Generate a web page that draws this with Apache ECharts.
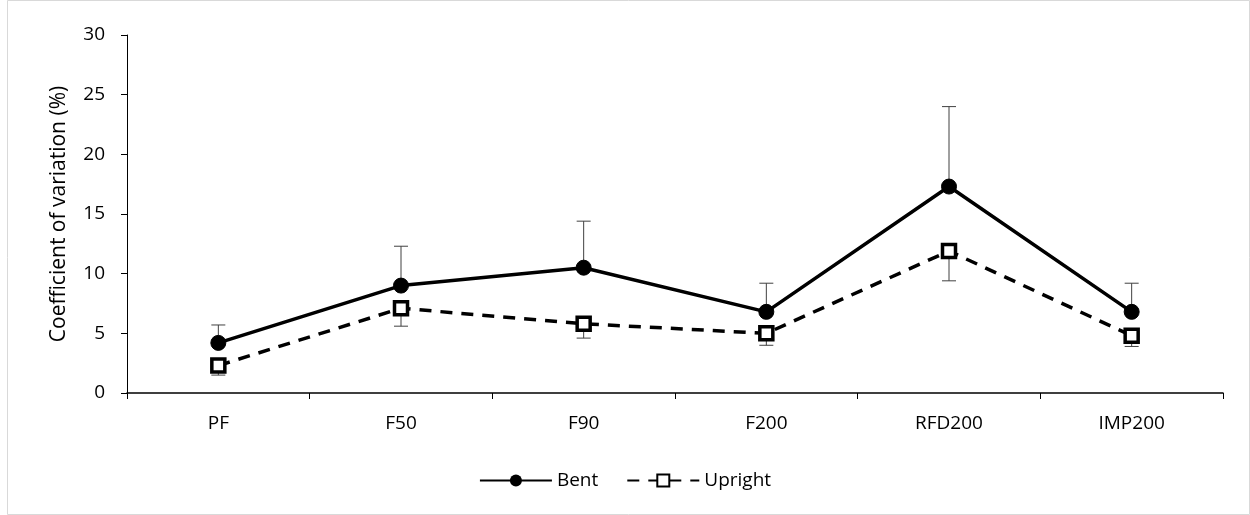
<!DOCTYPE html>
<html>
<head>
<meta charset="utf-8">
<script src="https://cdn.jsdelivr.net/npm/echarts@6/dist/echarts.min.js"></script>
<style>
  html, body { margin: 0; padding: 0; background: #fff; }
  #chart { width: 1250px; height: 515px; }
</style>
</head>
<body>
<div id="chart"></div>
<script>
// 数据
const categories = ['PF', 'F50', 'F90', 'F200', 'RFD200', 'IMP200'];
const bentValues = [4.2, 9.0, 10.5, 6.8, 17.3, 6.8];
const bentErrUp = [1.5, 3.3, 3.9, 2.4, 6.7, 2.4];
const uprightValues = [2.3, 7.1, 5.8, 5.0, 11.9, 4.8];
const uprightErrDown = [0.8, 1.5, 1.2, 1.0, 2.5, 0.9];

const FONT = '"Open Sans", Lato, sans-serif';

// 误差线
function errorBarSeries(values, errs, dir) {
  return {
    type: 'custom',
    silent: true,
    z: 1,
    data: values.map((v, i) => [i, v, v + dir * errs[i]]),
    renderItem: function (params, api) {
      const p0 = api.coord([api.value(0), api.value(1)]);
      const p1 = api.coord([api.value(0), api.value(2)]);
      const half = 7;
      const style = { stroke: '#404040', lineWidth: 1 };
      return {
        type: 'group',
        children: [
          { type: 'line', shape: { x1: p0[0], y1: p0[1], x2: p1[0], y2: p1[1] }, style: style },
          { type: 'line', shape: { x1: p1[0] - half, y1: p1[1], x2: p1[0] + half, y2: p1[1] }, style: style }
        ]
      };
    }
  };
}

const chart = echarts.init(document.getElementById('chart'));

const option = {
  animation: false,
  backgroundColor: '#fff',
  textStyle: { fontFamily: FONT },
  graphic: [
    {
      type: 'rect',
      shape: { x: 7.5, y: 0.5, width: 1242, height: 514 },
      style: { fill: 'none', stroke: '#d9d9d9', lineWidth: 1 },
      silent: true
    }
  ],
  grid: { left: 127, right: 27, top: 35, bottom: 122, containLabel: false },
  legend: {
    top: 466,
    left: 'center',
    itemWidth: 72,
    itemHeight: 15,
    itemGap: 28,
    textStyle: { fontSize: 19, color: '#000', fontFamily: FONT },
    data: ['Bent', 'Upright']
  },
  xAxis: {
    type: 'category',
    data: categories,
    boundaryGap: true,
    axisLine: { lineStyle: { color: '#000', width: 1.5 } },
    axisTick: { show: true, inside: false, length: 6, lineStyle: { color: '#000', width: 1 } },
    axisLabel: { color: '#000', fontSize: 19, margin: 21, fontFamily: FONT },
    splitLine: { show: false }
  },
  yAxis: {
    type: 'value',
    min: 0,
    max: 30,
    interval: 5,
    name: 'Coefficient of variation (%)',
    nameLocation: 'middle',
    nameGap: 57,
    nameTextStyle: { color: '#000', fontSize: 21, fontFamily: FONT },
    axisLine: { show: true, lineStyle: { color: '#000', width: 1 } },
    axisTick: { show: true, inside: false, length: 6, lineStyle: { color: '#000' } },
    axisLabel: { color: '#000', fontSize: 19, margin: 22, fontFamily: FONT },
    splitLine: { show: false }
  },
  series: [
    errorBarSeries(bentValues, bentErrUp, 1),
    errorBarSeries(uprightValues, uprightErrDown, -1),
    {
      name: 'Upright',
      type: 'line',
      z: 3,
      data: uprightValues,
      symbol: 'rect',
      symbolSize: 13,
      lineStyle: { color: '#000', width: 3.5, type: [12, 9] },
      itemStyle: { color: '#fff', borderColor: '#000', borderWidth: 3.5 }
    },
    {
      name: 'Bent',
      type: 'line',
      z: 4,
      data: bentValues,
      symbol: 'circle',
      symbolSize: 15,
      lineStyle: { color: '#000', width: 3.5 },
      itemStyle: { color: '#000', borderColor: '#000' }
    }
  ]
};

chart.setOption(option);
</script>
</body>
</html>
